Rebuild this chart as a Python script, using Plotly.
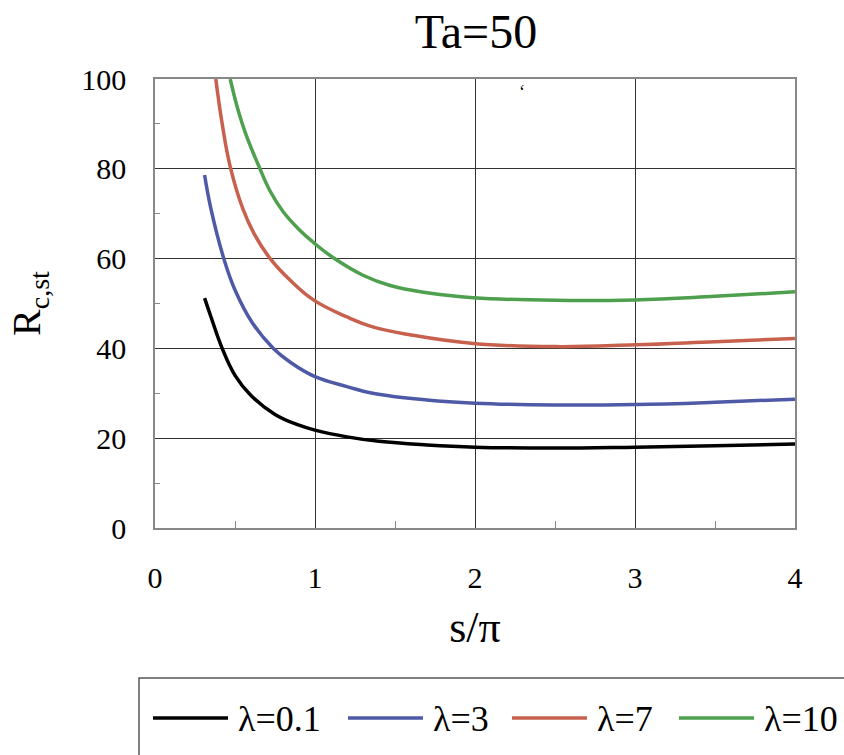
import plotly.graph_objects as go

s_k = [0.31, 0.35, 0.42, 0.5, 0.6, 0.75, 0.9, 1.0, 1.2, 1.4, 1.7, 2.0, 2.5, 3.0, 3.5, 4.0]
r_k = [51.2, 47, 40, 34, 29.5, 25.3, 22.9, 21.8, 20.3, 19.3, 18.5, 18.0, 17.8, 18.0, 18.3, 18.7]

s_b = [0.31, 0.35, 0.43, 0.5, 0.61, 0.74, 0.85, 1.0, 1.2, 1.36, 1.7, 2.0, 2.5, 3.0, 3.5, 4.0]
r_b = [78.6, 71, 60, 53, 45.6, 40, 36.8, 33.7, 31.5, 30, 28.5, 27.8, 27.4, 27.5, 28.0, 28.7]

s_r = [0.38, 0.42, 0.47, 0.55, 0.62, 0.72, 0.85, 0.99, 1.2, 1.36, 1.6, 1.99, 2.5, 3.0, 3.5, 4.0]
r_r = [100, 90, 80.5, 71, 65.5, 60, 55, 50.8, 47, 44.8, 43, 41.1, 40.4, 40.8, 41.5, 42.2]

s_g = [0.47, 0.52, 0.57, 0.65, 0.72, 0.80, 0.90, 0.99, 1.11, 1.3, 1.47, 1.7, 1.99, 2.5, 3.0, 3.5, 4.0]
r_g = [100, 93, 87.5, 80.5, 75, 70.5, 66.5, 63.6, 60.3, 56.3, 54, 52.4, 51.3, 50.7, 50.8, 51.6, 52.6]

names = ["λ=0.1", "λ=3", "λ=7", "λ=10"]
colors = ["#000000", "#4e5aa6", "#c8604e", "#4ea04e"]

x_ticks = [0, 1, 2, 3, 4]
y_ticks = [0, 20, 40, 60, 80, 100]

FONT = "Liberation Serif, Times New Roman, Times, serif"

W, H = 844, 755
ML, MR, MT, MB = 155, 49, 79, 227
PW, PH = W - ML - MR, H - MT - MB


def px_x(p):
    return (p - ML) / PW


def px_y(p):
    return (H - MB - p) / PH


fig = go.Figure()
for xs, ys, nm, c in zip([s_k, s_b, s_r, s_g], [r_k, r_b, r_r, r_g], names, colors):
    fig.add_trace(go.Scatter(x=xs, y=ys, mode="lines", name=nm, showlegend=False,
                             line=dict(color=c, width=3.5, shape="spline", smoothing=1.2)))

# manual legend (long line samples like the reference)
legend_line_x0 = [153, 348, 512, 679]
legend_len = 75
legend_y = 718
shapes = [dict(type="rect", xref="paper", yref="paper",
               x0=px_x(139), x1=px_x(860), y0=px_y(678), y1=px_y(770),
               line=dict(color="#555555", width=1.5), fillcolor="rgba(0,0,0,0)")]
annotations = []
for x0, nm, c in zip(legend_line_x0, names, colors):
    shapes.append(dict(type="line", xref="paper", yref="paper",
                       x0=px_x(x0), x1=px_x(x0 + legend_len),
                       y0=px_y(legend_y), y1=px_y(legend_y),
                       line=dict(color=c, width=3.5)))
    annotations.append(dict(text=nm, xref="paper", yref="paper",
                            x=px_x(x0 + legend_len + 8), y=px_y(legend_y + 1),
                            xanchor="left", yanchor="middle", showarrow=False,
                            font=dict(size=36, family=FONT, color="black")))
annotations.append(dict(text="ʻ", xref="paper", yref="paper", x=px_x(522), y=px_y(92),
                        xanchor="center", yanchor="middle", showarrow=False,
                        font=dict(size=18, family=FONT, color="black")))

fig.update_layout(
    width=W, height=H,
    margin=dict(l=ML, r=MR, t=MT, b=MB),
    paper_bgcolor="white", plot_bgcolor="white",
    font=dict(family=FONT, color="black"),
    showlegend=False,
    title=dict(text="Ta=50", x=476 / W, xanchor="center", y=1 - 31 / H, yanchor="middle",
               font=dict(size=48, family=FONT, color="black")),
    shapes=shapes,
    annotations=annotations,
)

fig.update_xaxes(range=[0, 4], tickvals=x_ticks, ticktext=[str(v) for v in x_ticks],
                 tickfont=dict(size=30, family=FONT, color="black"), ticks="", ticklabelstandoff=22,
                 showgrid=True, gridcolor="#333333", gridwidth=1,
                 showline=True, linecolor="#888888", linewidth=1.5, mirror=True,
                 zeroline=False,
                 minor=dict(tickvals=[0.5, 1.5, 2.5, 3.5], ticks="inside", ticklen=7,
                            tickcolor="#888888", showgrid=False),
                 title=dict(text="s/π", font=dict(size=44, family=FONT, color="black"), standoff=18))
fig.update_yaxes(range=[0, 100], tickvals=y_ticks, ticktext=[str(v) for v in y_ticks],
                 tickfont=dict(size=30, family=FONT, color="black"), ticks="", ticklabelstandoff=21,
                 showgrid=True, gridcolor="#333333", gridwidth=1,
                 showline=True, linecolor="#888888", linewidth=1.5, mirror=True,
                 zeroline=False,
                 minor=dict(tickvals=[10, 30, 50, 70, 90], ticks="inside", ticklen=5,
                            tickcolor="#888888", showgrid=False),
                 title=dict(text="R<sub>c,st</sub>", font=dict(size=40, family=FONT, color="black"), standoff=28))

fig.write_html("out.html")
